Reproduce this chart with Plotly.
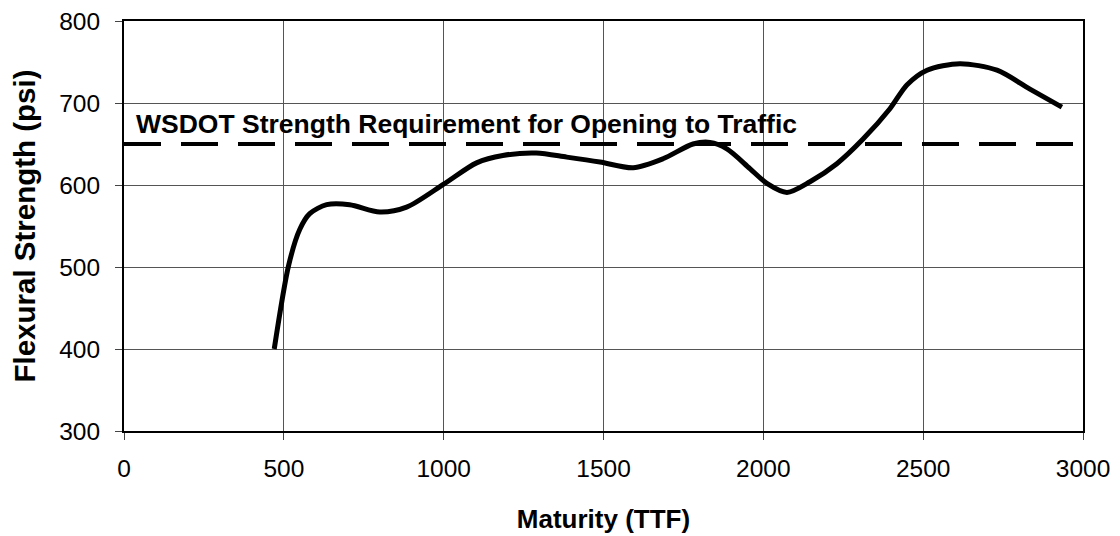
import plotly.graph_objects as go

# flexural strength vs maturity
maturity = [470, 515, 550, 581, 634, 706, 800, 884, 1000, 1103, 1185, 1290,
            1385, 1489, 1593, 1686, 1780, 1833, 1886, 1958, 2011, 2074, 2146,
            2230, 2312, 2396, 2449, 2512, 2615, 2731, 2834, 2934]
strength = [400, 502, 546, 565, 576, 576, 567, 573, 601, 627, 636, 639,
            634, 628, 621, 632, 650, 652, 644, 620, 602, 591, 604,
            626, 656, 693, 722, 740, 748, 740, 717, 695]

req_x = [0, 3000]
req_y = [650, 650]
req_label = "WSDOT Strength Requirement for Opening to Traffic"

x_ticks = [0, 500, 1000, 1500, 2000, 2500, 3000]
y_ticks = [300, 400, 500, 600, 700, 800]

font = "Liberation Sans, Arial, Helvetica, sans-serif"

fig = go.Figure()
fig.add_trace(go.Scatter(
    x=req_x, y=req_y, mode="lines",
    line=dict(color="black", width=4, dash="37px,20px"),
    hoverinfo="skip",
))
fig.add_trace(go.Scatter(
    x=maturity, y=strength, mode="lines",
    line=dict(color="black", width=5, shape="spline", smoothing=0.8),
))

fig.add_annotation(
    x=30, y=674, xref="x", yref="y", text="<b>%s</b>" % req_label,
    showarrow=False, xanchor="left", yanchor="middle",
    font=dict(size=26.5, color="black", family=font),
)

axis_common = dict(
    showline=True, linecolor="black", linewidth=2, mirror=True,
    showgrid=True, gridcolor="#555555", gridwidth=1,
    ticks="outside", ticklen=7, tickcolor="#444444", tickwidth=1,
    zeroline=False, automargin=False, ticklabeloverflow="allow",
    tickfont=dict(size=24.5, color="black", family=font),
)

fig.update_xaxes(
    range=[0, 3000], tickvals=x_ticks, ticklabelstandoff=8,
    title=dict(text="<b>Maturity (TTF)</b>", standoff=28,
               font=dict(size=26, color="black", family=font)),
    **axis_common,
)
fig.update_yaxes(
    range=[300, 800], tickvals=y_ticks, ticklabelstandoff=10,
    title=dict(text="<b>Flexural Strength (psi)</b>", standoff=15,
               font=dict(size=29.5, color="black", family=font)),
    **axis_common,
)

# page body adds an 8px offset, so the figure is 8px smaller than the window
fig.update_layout(
    width=1112, height=528,
    margin=dict(l=116, r=37, t=13, b=105),
    paper_bgcolor="white", plot_bgcolor="white",
    showlegend=False,
    font=dict(family=font, color="black"),
)

fig.write_html("out.html")
